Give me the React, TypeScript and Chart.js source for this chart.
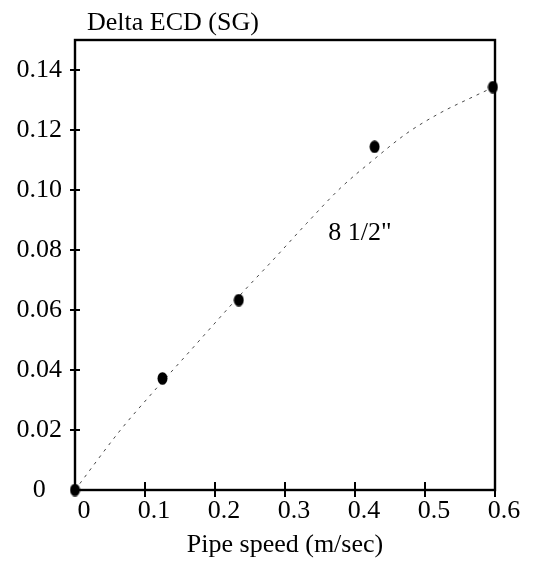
import React, { useEffect, useRef } from 'react';
import { Chart, registerables } from 'chart.js';

Chart.register(...registerables);

// Measured points: pipe speed (m/sec) vs delta ECD (SG)
const speedValues = [0, 0.125, 0.234, 0.428, 0.597];
const ecdValues = [0, 0.0372, 0.0633, 0.1144, 0.1343];

// Dotted trend curve
const curveSpeed = [0, 0.065, 0.108, 0.16, 0.236, 0.283, 0.331, 0.379, 0.426, 0.474, 0.521, 0.569, 0.6];
const curveEcd = [0, 0.02, 0.0317, 0.0452, 0.065, 0.0767, 0.0889, 0.1006, 0.11, 0.1189, 0.1256, 0.1311, 0.1345];

const xTickValues = [0, 0.1, 0.2, 0.3, 0.4, 0.5, 0.6];
const xTickLabels = ['0', '0.1', '0.2', '0.3', '0.4', '0.5', '0.6'];
const yTickValues = [0, 0.02, 0.04, 0.06, 0.08, 0.1, 0.12, 0.14];
const yTickLabels = ['0', '0.02', '0.04', '0.06', '0.08', '0.10', '0.12', '0.14'];

const yTitle = 'Delta ECD (SG)';
const xTitle = 'Pipe speed (m/sec)';
const curveLabel = '8 1/2"';
const curveLabelSpeed = 0.407;
const curveLabelEcd = 0.0857;

const FONT = '"Liberation Serif", "Times New Roman", serif';
const FS = 26;

export default function App() {
  const ref = useRef<HTMLCanvasElement | null>(null);

  useEffect(() => {
    if (!ref.current) return;

    const marker = document.createElement('canvas');
    marker.width = 11;
    marker.height = 13;
    const mctx = marker.getContext('2d')!;
    mctx.fillStyle = '#000';
    mctx.beginPath();
    mctx.ellipse(5.5, 6.5, 5, 6.3, 0, 0, Math.PI * 2);
    mctx.fill();

    const framePlugin = {
      id: 'frame',
      beforeDatasetsDraw(chart: any) {
        const { ctx, chartArea: a, scales } = chart;
        ctx.save();
        ctx.strokeStyle = '#000';
        ctx.lineWidth = 2.4;
        ctx.strokeRect(a.left, a.top, a.right - a.left, a.bottom - a.top);
        ctx.lineWidth = 2;
        ctx.beginPath();
        scales.x.ticks.forEach((t: any) => {
          if (t.value === 0) return;
          const px = scales.x.getPixelForValue(t.value);
          ctx.moveTo(px, a.bottom - 8);
          ctx.lineTo(px, a.bottom + 7);
        });
        scales.y.ticks.forEach((t: any) => {
          if (t.value === 0) return;
          const py = scales.y.getPixelForValue(t.value);
          ctx.moveTo(a.left - 5, py);
          ctx.lineTo(a.left + 5, py);
        });
        ctx.stroke();
        ctx.restore();
      },
      afterDatasetsDraw(chart: any) {
        const { ctx, chartArea: a, scales } = chart;
        ctx.save();
        ctx.fillStyle = '#000';
        ctx.font = `${FS}px ${FONT}`;
        ctx.textAlign = 'left';
        ctx.textBaseline = 'alphabetic';
        ctx.fillText(yTitle, a.left + 12, a.top - 10);
        ctx.textAlign = 'center';
        ctx.textBaseline = 'middle';
        ctx.fillText(
          curveLabel,
          scales.x.getPixelForValue(curveLabelSpeed),
          scales.y.getPixelForValue(curveLabelEcd)
        );
        ctx.restore();
      },
    };

    const chart = new Chart(ref.current, {
      type: 'scatter',
      data: {
        datasets: [
          {
            data: speedValues.map((x, i) => ({ x, y: ecdValues[i] })),
            pointStyle: marker as any,
            pointRadius: 5,
            showLine: false,
            clip: false as any,
          },
          {
            data: curveSpeed.map((x, i) => ({ x, y: curveEcd[i] })),
            showLine: true,
            pointRadius: 0,
            borderColor: 'rgba(40,40,40,0.85)',
            borderWidth: 1,
            borderDash: [3, 5],
            tension: 0.4,
            cubicInterpolationMode: 'monotone',
            clip: false as any,
          },
        ],
      },
      options: {
        animation: false,
        responsive: false,
        events: [],
        layout: { padding: { left: 0, right: 38, top: 40, bottom: 0 } },
        plugins: { legend: { display: false }, tooltip: { enabled: false }, title: { display: false } },
        scales: {
          x: {
            type: 'linear',
            min: 0,
            max: 0.6,
            afterBuildTicks: (s: any) => {
              s.ticks = xTickValues.map((v) => ({ value: v }));
            },
            afterFit: (s: any) => {
              s.height = 72;
            },
            grid: { display: false, drawTicks: false },
            border: { display: false },
            ticks: {
              autoSkip: false,
              maxRotation: 0,
              color: '#000',
              padding: 6,
              labelOffset: 9,
              font: { family: FONT, size: FS },
              callback: (_v: any, i: number) => xTickLabels[i],
            },
            title: {
              display: true,
              text: xTitle,
              color: '#000',
              font: { family: FONT, size: FS },
              padding: { top: 0, bottom: 1 },
            },
          },
          y: {
            type: 'linear',
            min: 0,
            max: 0.15,
            afterBuildTicks: (s: any) => {
              s.ticks = yTickValues.map((v) => ({ value: v }));
            },
            afterFit: (s: any) => {
              s.width = 75;
            },
            grid: { display: false, drawTicks: false },
            border: { display: false },
            ticks: {
              color: '#000',
              crossAlign: 'center',
              padding: 13,
              font: { family: FONT, size: FS },
              callback: (_v: any, i: number) => yTickLabels[i],
            },
          },
        },
      },
      plugins: [framePlugin],
    });

    return () => chart.destroy();
  }, []);

  return (
    <div style={{ position: 'absolute', left: 0, top: 0, width: 533, height: 562, background: '#fff' }}>
      <canvas ref={ref} width={533} height={562} style={{ display: 'block' }} />
    </div>
  );
}
